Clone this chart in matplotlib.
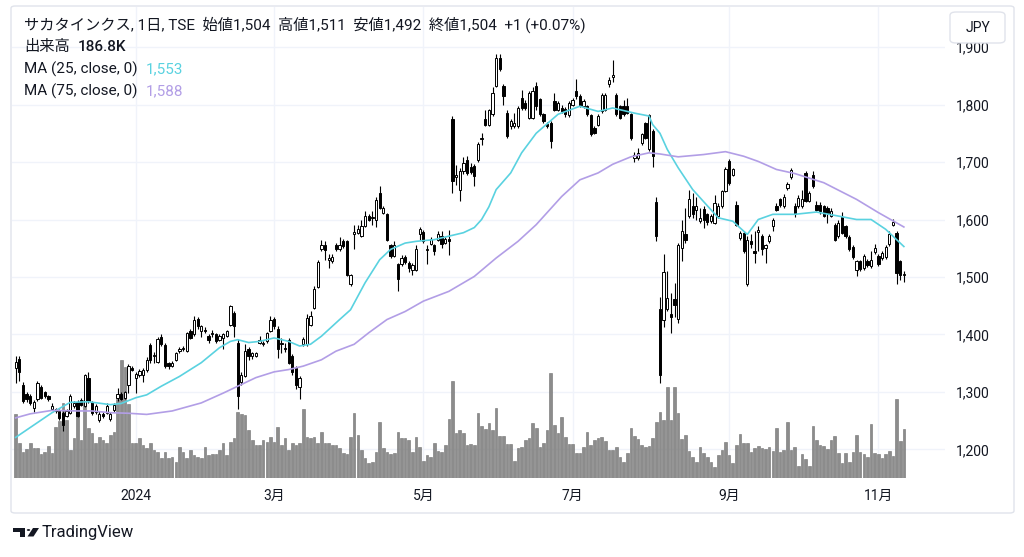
import numpy as np
import pandas as pd
import matplotlib
matplotlib.use('Agg')
import matplotlib.pyplot as plt
from matplotlib.patches import FancyBboxPatch, Circle, Polygon

plt.rcParams['font.family'] = ['Roboto', 'Noto Sans CJK JP', 'DejaVu Sans']

# 取引日（東証の休場日を除く）
jp_holidays = ['2023-11-23', '2024-01-01', '2024-01-02', '2024-01-03', '2024-01-08',
               '2024-02-12', '2024-02-23', '2024-03-20', '2024-04-29', '2024-05-03',
               '2024-05-06', '2024-07-15', '2024-08-12', '2024-09-16', '2024-09-23',
               '2024-10-14', '2024-11-04']
dates = pd.bdate_range('2023-11-14', '2024-11-13', freq='C', holidays=jp_holidays)

# 四本値（チャートから読み取り）
opens = [1341, 1358, 1313, 1296, 1293, 1272, 1287, 1309, 1300, 1293, 1271, 1270, 1267, 1263, 1259, 1264, 1275, 1283, 1286, 1276,
         1325, 1282, 1265, 1252, 1262, 1264, 1253, 1268, 1290, 1296, 1290, 1313, 1342, 1325, 1329, 1330, 1339, 1381, 1362, 1353,
         1395, 1382, 1350, 1346, 1356, 1371, 1374, 1371, 1406, 1400, 1427, 1406, 1408, 1397, 1400, 1400, 1391, 1394, 1397, 1416,
         1438, 1386, 1317, 1328, 1374, 1362, 1362, 1385, 1383, 1388, 1406, 1427, 1410, 1383, 1377, 1391, 1362, 1342, 1309, 1383,
         1383, 1417, 1446, 1483, 1548, 1556, 1530, 1527, 1556, 1548, 1562, 1562, 1487, 1574, 1577, 1572, 1589, 1606, 1603, 1600,
         1646, 1612, 1609, 1555, 1536, 1522, 1522, 1535, 1525, 1513, 1513, 1574, 1578, 1547, 1558, 1555, 1565, 1571, 1560, 1566,
         1774, 1674, 1652, 1684, 1703, 1691, 1693, 1704, 1740, 1774, 1764, 1783, 1833, 1881, 1833, 1785, 1762, 1762, 1762, 1812,
         1803, 1777, 1777, 1832, 1809, 1783, 1766, 1768, 1806, 1791, 1794, 1792, 1781, 1800, 1823, 1815, 1797, 1797, 1781, 1759,
         1765, 1788, 1791, 1835, 1848, 1817, 1797, 1797, 1797, 1783, 1707, 1707, 1733, 1767, 1722, 1754, 1630, 1445, 1426, 1445,
         1435, 1461, 1427, 1551, 1574, 1606, 1624, 1616, 1597, 1619, 1609, 1597, 1594, 1606, 1623, 1649, 1701, 1678, 1626, 1568,
         1577, 1487, 1562, 1545, 1578, 1571, 1550, 1562, 1588, 1624, 1635, 1623, 1655, 1674, 1623, 1623, 1623, 1681, 1632, 1678,
         1626, 1626, 1623, 1620, 1606, 1591, 1571, 1605, 1588, 1570, 1553, 1513, 1527, 1516, 1527, 1519, 1543, 1536, 1533, 1535,
         1557, 1591, 1576, 1527, 1504]
highs = [1362, 1362, 1317, 1300, 1296, 1286, 1319, 1313, 1302, 1295, 1280, 1273, 1271, 1267, 1270, 1296, 1284, 1286, 1290, 1331,
         1334, 1285, 1279, 1267, 1266, 1281, 1266, 1280, 1307, 1300, 1302, 1348, 1346, 1334, 1340, 1342, 1360, 1385, 1370, 1396,
         1400, 1385, 1352, 1354, 1370, 1378, 1380, 1405, 1410, 1433, 1431, 1416, 1413, 1400, 1408, 1403, 1400, 1402, 1408, 1452,
         1440, 1392, 1335, 1383, 1378, 1370, 1370, 1398, 1389, 1405, 1432, 1430, 1415, 1394, 1386, 1394, 1366, 1345, 1328, 1395,
         1436, 1441, 1484, 1530, 1565, 1562, 1540, 1540, 1560, 1570, 1566, 1565, 1506, 1591, 1590, 1600, 1615, 1610, 1615, 1640,
         1659, 1624, 1612, 1558, 1563, 1525, 1538, 1538, 1528, 1524, 1555, 1587, 1582, 1555, 1570, 1558, 1580, 1580, 1570, 1582,
         1780, 1695, 1690, 1708, 1710, 1698, 1696, 1735, 1750, 1790, 1793, 1830, 1887, 1887, 1836, 1790, 1775, 1785, 1797, 1825,
         1808, 1824, 1830, 1840, 1812, 1786, 1770, 1772, 1820, 1806, 1800, 1796, 1806, 1812, 1845, 1818, 1810, 1800, 1783, 1762,
         1783, 1820, 1820, 1848, 1878, 1820, 1800, 1808, 1812, 1786, 1718, 1725, 1750, 1770, 1784, 1757, 1640, 1465, 1540, 1510,
         1473, 1490, 1560, 1600, 1620, 1651, 1646, 1640, 1620, 1623, 1612, 1610, 1643, 1628, 1652, 1692, 1705, 1690, 1633, 1580,
         1580, 1571, 1574, 1580, 1588, 1575, 1558, 1575, 1603, 1628, 1638, 1645, 1666, 1690, 1628, 1642, 1652, 1685, 1650, 1685,
         1632, 1630, 1626, 1624, 1620, 1594, 1600, 1613, 1591, 1573, 1556, 1530, 1530, 1540, 1532, 1545, 1558, 1540, 1545, 1556,
         1580, 1601, 1580, 1530, 1511]
lows = [1316, 1319, 1280, 1283, 1278, 1265, 1285, 1288, 1290, 1285, 1268, 1264, 1252, 1232, 1256, 1262, 1272, 1257, 1276, 1274,
        1281, 1260, 1262, 1248, 1254, 1262, 1250, 1266, 1284, 1286, 1288, 1299, 1336, 1299, 1326, 1318, 1335, 1350, 1350, 1350,
        1380, 1342, 1340, 1343, 1354, 1368, 1371, 1369, 1392, 1398, 1410, 1395, 1403, 1385, 1396, 1386, 1388, 1374, 1395, 1414,
        1396, 1270, 1312, 1326, 1355, 1358, 1360, 1383, 1380, 1385, 1404, 1410, 1359, 1368, 1370, 1349, 1330, 1305, 1288, 1380,
        1380, 1415, 1444, 1480, 1545, 1530, 1515, 1524, 1545, 1546, 1550, 1502, 1485, 1548, 1574, 1570, 1587, 1598, 1590, 1587,
        1618, 1610, 1563, 1533, 1534, 1476, 1519, 1522, 1508, 1504, 1511, 1565, 1560, 1523, 1555, 1538, 1562, 1550, 1557, 1539,
        1646, 1660, 1632, 1680, 1678, 1680, 1658, 1700, 1730, 1762, 1762, 1780, 1830, 1858, 1800, 1742, 1758, 1760, 1760, 1790,
        1790, 1775, 1775, 1790, 1780, 1768, 1760, 1725, 1788, 1788, 1785, 1778, 1778, 1797, 1810, 1795, 1794, 1780, 1745, 1748,
        1762, 1786, 1789, 1830, 1840, 1780, 1775, 1780, 1783, 1738, 1700, 1703, 1730, 1740, 1720, 1692, 1563, 1316, 1413, 1440,
        1402, 1430, 1420, 1528, 1560, 1603, 1603, 1600, 1594, 1585, 1590, 1594, 1592, 1603, 1620, 1647, 1660, 1675, 1588, 1565,
        1542, 1484, 1550, 1525, 1545, 1538, 1525, 1560, 1580, 1614, 1622, 1620, 1652, 1670, 1605, 1620, 1620, 1630, 1630, 1655,
        1615, 1610, 1604, 1594, 1604, 1562, 1568, 1575, 1568, 1545, 1532, 1501, 1510, 1513, 1517, 1516, 1540, 1519, 1530, 1532,
        1554, 1588, 1487, 1495, 1492]
closes = [1352, 1334, 1284, 1287, 1280, 1282, 1315, 1290, 1293, 1288, 1275, 1267, 1255, 1242, 1267, 1293, 1281, 1259, 1278, 1329,
          1284, 1264, 1275, 1261, 1258, 1276, 1262, 1277, 1297, 1288, 1300, 1346, 1339, 1331, 1337, 1338, 1356, 1356, 1365, 1392,
          1383, 1345, 1346, 1351, 1368, 1375, 1377, 1403, 1394, 1425, 1414, 1414, 1406, 1391, 1402, 1388, 1398, 1400, 1406, 1450,
          1414, 1293, 1330, 1371, 1362, 1367, 1368, 1391, 1386, 1403, 1426, 1414, 1374, 1386, 1375, 1351, 1334, 1313, 1325, 1392,
          1429, 1433, 1479, 1526, 1556, 1547, 1533, 1535, 1548, 1556, 1554, 1504, 1504, 1578, 1584, 1589, 1606, 1600, 1603, 1634,
          1620, 1620, 1565, 1536, 1556, 1496, 1533, 1526, 1515, 1521, 1548, 1584, 1562, 1549, 1566, 1545, 1574, 1558, 1566, 1562,
          1667, 1678, 1684, 1699, 1681, 1682, 1675, 1732, 1741, 1765, 1790, 1820, 1881, 1861, 1814, 1745, 1771, 1768, 1794, 1794,
          1794, 1820, 1823, 1797, 1783, 1771, 1763, 1736, 1791, 1803, 1788, 1783, 1803, 1808, 1814, 1797, 1806, 1783, 1748, 1751,
          1780, 1817, 1816, 1843, 1851, 1783, 1777, 1783, 1786, 1742, 1713, 1716, 1748, 1742, 1781, 1710, 1571, 1330, 1508, 1464,
          1431, 1452, 1556, 1580, 1565, 1635, 1609, 1623, 1603, 1600, 1595, 1606, 1629, 1624, 1649, 1688, 1664, 1687, 1591, 1577,
          1545, 1565, 1557, 1541, 1582, 1548, 1555, 1571, 1600, 1617, 1626, 1640, 1662, 1686, 1609, 1638, 1635, 1632, 1646, 1658,
          1617, 1614, 1606, 1611, 1614, 1565, 1594, 1577, 1571, 1548, 1535, 1527, 1514, 1536, 1520, 1530, 1551, 1522, 1542, 1552,
          1574, 1595, 1507, 1503, 1504]
# 出来高（千株）
volumes = [243, 133, 99, 110, 133, 114, 114, 91, 99, 122, 95, 194, 217, 285, 220, 106, 152, 289, 144, 296,
           190, 171, 133, 156, 144, 133, 163, 175, 300, 450, 420, 280, 133, 133, 152, 125, 114, 133, 106, 99,
           76, 99, 76, 80, 61, 118, 99, 76, 106, 87, 80, 76, 118, 87, 91, 91, 106, 133, 87, 137,
           152, 251, 243, 239, 182, 144, 125, 125, 144, 137, 156, 137, 194, 125, 152, 106, 133, 125, 133, 262,
           156, 152, 156, 133, 175, 133, 133, 125, 125, 114, 95, 91, 156, 247, 163, 106, 76, 57, 61, 99,
           213, 114, 99, 91, 95, 175, 152, 152, 144, 99, 156, 118, 65, 87, 80, 133, 103, 99, 125, 224,
           369, 171, 182, 171, 125, 129, 125, 247, 198, 186, 209, 182, 266, 160, 160, 129, 129, 65, 114, 118,
           144, 152, 209, 190, 118, 133, 182, 399, 201, 171, 232, 156, 129, 129, 95, 95, 118, 175, 125, 144,
           152, 156, 140, 106, 106, 118, 80, 61, 95, 190, 160, 148, 125, 118, 122, 152, 213, 251, 220, 346,
           220, 346, 247, 148, 163, 103, 80, 61, 118, 95, 80, 61, 42, 87, 106, 137, 87, 57, 125, 167,
           133, 133, 99, 114, 122, 114, 110, 118, 103, 190, 99, 106, 213, 106, 118, 46, 91, 72, 46, 198,
           144, 125, 122, 110, 144, 160, 95, 57, 95, 61, 99, 163, 99, 91, 80, 205, 95, 91, 76, 91,
           103, 84, 300, 141, 186.8]

# 移動平均線（チャートから読み取った点）
ma25_idx = [0, 10, 15, 20, 26, 29, 33, 36, 40, 45, 51, 56, 59, 61, 64, 67, 71, 75, 78, 81,
            84, 89, 92, 96, 100, 103, 107, 110, 115, 119, 123, 126, 128, 130, 132, 136, 139, 143, 149, 155, 160, 164,
            170, 174, 175, 177, 179, 182, 186, 191, 193, 197, 201, 204, 208, 214, 220, 226, 231, 235, 239, 244]
ma25_val = [1221, 1264, 1282, 1283, 1278, 1280, 1290, 1295, 1310, 1327, 1351, 1377, 1388, 1391, 1386, 1388, 1394, 1388, 1380, 1383,
            1397, 1426, 1443, 1490, 1530, 1548, 1559, 1562, 1565, 1571, 1577, 1586, 1600, 1622, 1652, 1681, 1716, 1750, 1783, 1797, 1788, 1794,
            1785, 1780, 1765, 1750, 1722, 1690, 1652, 1617, 1603, 1597, 1574, 1600, 1609, 1609, 1613, 1606, 1600, 1600, 1583, 1553]
ma75_idx = [0, 4, 10, 17, 21, 26, 31, 36, 43, 51, 57, 62, 66, 71, 75, 79, 84, 88, 93, 97,
            102, 107, 112, 119, 126, 132, 138, 143, 146, 150, 155, 160, 164, 169, 174, 177, 182, 189, 195, 200,
            204, 209, 214, 222, 231, 237, 244]
ma75_val = [1255, 1262, 1268, 1267, 1267, 1264, 1263, 1261, 1267, 1281, 1298, 1313, 1325, 1335, 1339, 1345, 1356, 1371, 1383, 1403,
            1426, 1440, 1458, 1475, 1501, 1533, 1562, 1591, 1612, 1640, 1669, 1681, 1696, 1709, 1716, 1714, 1709, 1713, 1718, 1710,
            1701, 1687, 1680, 1664, 1635, 1612, 1587]

price_ticks = [1200, 1300, 1400, 1500, 1600, 1700, 1800, 1900]
month_ticks = [(2024, 1, '2024'), (2024, 3, '3月'), (2024, 5, '5月'), (2024, 7, '7月'), (2024, 9, '9月'), (2024, 11, '11月')]

W, H = 1024, 557
def fx(px):
    return px / W
def fy(py):
    return 1 - py / H

fig = plt.figure(figsize=(W / 100, H / 100), dpi=100)
fig.patch.set_facecolor('white')

# 外枠
fig.patches.append(FancyBboxPatch((fx(11), fy(513)), fx(1014) - fx(11), fy(6) - fy(513),
                                  boxstyle='round,pad=0,rounding_size=0.004', transform=fig.transFigure,
                                  facecolor='white', edgecolor='#e0e3eb', lw=1.0, zorder=0))

rect = [fx(12), fy(478), fx(945) - fx(12), fy(7) - fy(478)]
ylim = (1150.4, 1969.6)
xlim = (-1.0, 255.3)

o = np.array(opens, float)
h = np.array(highs, float)
l = np.array(lows, float)
c = np.array(closes, float)
v = np.array(volumes, float)
x = np.arange(len(c))

tick_pos = [int(np.argmax((dates.year == yy) & (dates.month == mm))) for yy, mm, _ in month_ticks]
tick_lab = [t for _, _, t in month_ticks]

# 背景グリッド
ax_bg = fig.add_axes(rect, zorder=1)
ax_bg.set_xlim(xlim)
ax_bg.set_ylim(ylim)
for p in price_ticks:
    ax_bg.axhline(p, color='#f0f3fa', lw=1.0)
for t in tick_pos:
    ax_bg.axvline(t, color='#f0f3fa', lw=1.0)
ax_bg.axis('off')

# 出来高
ax_v = fig.add_axes(rect, zorder=2)
ax_v.patch.set_visible(False)
ax_v.bar(x, v, width=0.72, color='#8c8c8c', edgecolor='#6f6f6f', linewidth=0.4)
ax_v.set_xlim(xlim)
ax_v.set_ylim(0, 1790)
ax_v.axis('off')

# ローソク足
ax = fig.add_axes(rect, zorder=3)
ax.patch.set_visible(False)
ax.vlines(x, l, h, color='#000000', lw=0.8, zorder=2)
up = c >= o
bottom = np.minimum(o, c)
height = np.maximum(np.abs(c - o), 1.0)
ax.bar(x[up], height[up], bottom=bottom[up], width=0.62, color='white', edgecolor='black', linewidth=0.7, zorder=3)
ax.bar(x[~up], height[~up], bottom=bottom[~up], width=0.62, color='black', edgecolor='black', linewidth=0.7, zorder=3)

ax.plot(ma25_idx, ma25_val, color='#5ad2e0', lw=1.2, zorder=4)
ax.plot(ma75_idx, ma75_val, color='#b29ee6', lw=1.2, zorder=4)

ax.set_xlim(xlim)
ax.set_ylim(ylim)
for s in ax.spines.values():
    s.set_visible(False)
ax.yaxis.tick_right()
ax.set_yticks(price_ticks)
ax.set_yticklabels([f'{p:,}' for p in price_ticks])
ax.set_xticks(tick_pos)
ax.set_xticklabels(tick_lab)
ax.tick_params(axis='y', length=0, pad=8, labelsize=10, labelcolor='#131722')
ax.tick_params(axis='x', length=0, pad=8, labelsize=10, labelcolor='#131722')

# 凡例テキスト
fs = 11
fig.text(fx(24), fy(25), 'サカタインクス, 1日, TSE  始値1,504  高値1,511  安値1,492  終値1,504  +1 (+0.07%)',
         fontsize=fs, color='#131722', va='center', ha='left')
fig.text(fx(24), fy(47), '出来高', fontsize=fs, color='#131722', va='center', ha='left')
fig.text(fx(78), fy(47), '186.8K', fontsize=fs, color='#131722', va='center', ha='left', fontweight='medium')
fig.text(fx(24), fy(69), 'MA (25, close, 0)', fontsize=fs, color='#131722', va='center', ha='left')
fig.text(fx(146), fy(69), '1,553', fontsize=fs, color='#5ad2e0', va='center', ha='left')
fig.text(fx(24), fy(91), 'MA (75, close, 0)', fontsize=fs, color='#131722', va='center', ha='left')
fig.text(fx(146), fy(91), '1,588', fontsize=fs, color='#b29ee6', va='center', ha='left')

# 通貨ボタン
fig.patches.append(FancyBboxPatch((fx(950), fy(43)), fx(1005) - fx(950), fy(12) - fy(43),
                                  boxstyle='round,pad=0,rounding_size=0.006', transform=fig.transFigure,
                                  facecolor='white', edgecolor='#e0e3eb', lw=1.0, zorder=10))
fig.text(fx(977.5), fy(28), 'JPY', fontsize=10, color='#131722', va='center', ha='center', zorder=11)

# TradingView ロゴ
fig.patches.append(Polygon([(fx(13), fy(528)), (fx(25), fy(528)), (fx(25), fy(536.5)), (fx(19.5), fy(536.5)),
                            (fx(19.5), fy(531.5)), (fx(13), fy(531.5))], closed=True,
                           transform=fig.transFigure, facecolor='#131722', edgecolor='none'))
fig.patches.append(Circle((fx(28.5), fy(530)), 1.7 / W, transform=fig.transFigure, facecolor='#131722', edgecolor='none'))
fig.patches.append(Polygon([(fx(33), fy(528)), (fx(39), fy(528)), (fx(33.5), fy(536.5)), (fx(27.5), fy(536.5))],
                           closed=True, transform=fig.transFigure, facecolor='#131722', edgecolor='none'))
fig.text(fx(42), fy(532.5), 'TradingView', fontsize=12, color='#131722', va='center', ha='left')

fig.savefig('out.png', dpi=100, facecolor='white')
